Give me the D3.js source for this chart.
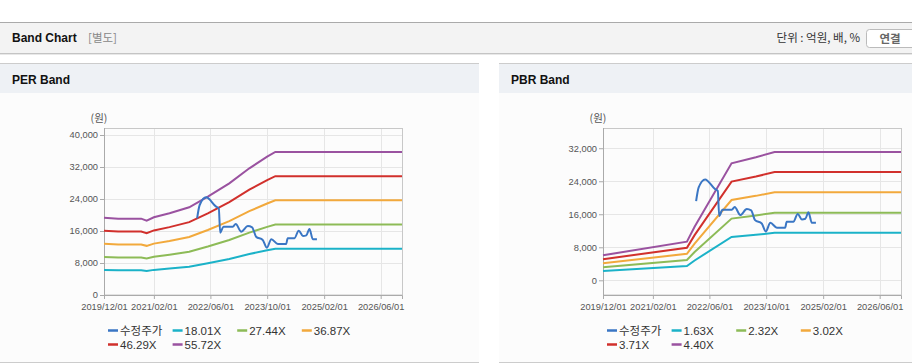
<!DOCTYPE html>
<html>
<head>
<meta charset="utf-8">
<script src="https://cdn.jsdelivr.net/npm/d3@7"></script>
<style>
  body { margin: 0; background: #fff; }
  svg { display: block; }
</style>
</head>
<body>
<svg width="912" height="364"></svg>
<script>
const parse = d3.timeParse("%Y-%m-%d");

// adjusted share price (same series on both charts)
const priceDates = ["2022-02-07", "2022-03-01", "2022-04-25", "2022-07-20", "2022-08-12", "2022-08-24",
  "2022-09-21", "2022-12-10", "2023-01-04", "2023-02-21", "2023-04-18", "2023-05-25", "2023-06-28",
  "2023-08-24", "2023-09-28", "2023-11-06", "2024-01-01", "2024-03-12", "2024-03-25", "2024-05-21",
  "2024-06-28", "2024-08-03", "2024-09-01", "2024-09-28", "2024-10-27", "2024-12-01"];
const priceValues = [19170, 22500, 24420, 22080, 21670, 15580, 17080, 17080, 17750, 15830, 17250, 16920,
  14580, 13750, 11830, 13920, 12750, 12750, 14170, 14170, 16080, 14750, 14920, 16500, 13920, 13920];

// PER band
const perDates = ["2019-12-01", "2020-04-01", "2020-10-15", "2020-12-01", "2021-02-01", "2021-06-15",
  "2021-12-01", "2022-05-10", "2022-11-10", "2023-05-01", "2023-10-01", "2023-12-10", "2026-12-01"];
const perLabels = ["18.01X", "27.44X", "36.87X", "46.29X", "55.72X"];
const per1801 = [6250, 6170, 6170, 6010, 6280, 6600, 7080, 7940, 9020, 10240, 11180, 11550, 11550];
const per2744 = [9520, 9400, 9400, 9150, 9560, 10060, 10800, 12110, 13750, 15600, 17030, 17610, 17610];
const per3687 = [12790, 12630, 12630, 12290, 12850, 13510, 14500, 16260, 18470, 20960, 22880, 23660, 23660];
const per4629 = [16060, 15860, 15860, 15440, 16140, 16970, 18220, 20430, 23200, 26320, 28740, 29710, 29710];
const per5572 = [19330, 19080, 19080, 18580, 19420, 20420, 21920, 24580, 27920, 31670, 34580, 35750, 35750];

// PBR band
const pbrDates = ["2019-12-01", "2021-11-20", "2022-01-25", "2022-12-08", "2023-07-05", "2023-12-12", "2026-12-01"];
const pbrLabels = ["1.63X", "2.32X", "3.02X", "3.71X", "4.40X"];
const pbr163 = [2240, 3460, 4810, 10490, 11030, 11510, 11510];
const pbr232 = [3190, 4930, 6850, 14950, 15720, 16390, 16390];
const pbr302 = [4160, 6420, 8910, 19460, 20460, 21340, 21340];
const pbr371 = [5110, 7890, 10950, 23910, 25140, 26220, 26220];
const pbr440 = [6060, 9360, 12990, 28360, 29820, 31100, 31100];

const xTicks = ["2019-12-01", "2021-02-01", "2022-06-01", "2023-10-01", "2025-02-01", "2026-06-01"];
const perYTicks = [0, 8000, 16000, 24000, 32000, 40000];
const pbrYTicks = [0, 8000, 16000, 24000, 32000];
const priceLabel = "수정주가";
const colors = ["#3a76c4", "#1bb2c8", "#8dbb57", "#f2a93c", "#d1302c", "#9a52a0"];

const svg = d3.select("svg");
const sans = "'Liberation Sans', Arial, sans-serif";
const kr = "'Noto Sans CJK KR', 'Noto Sans', sans-serif";

// page header
svg.append("rect").attr("x", 0).attr("y", 22).attr("width", 912).attr("height", 31).attr("fill", "#f3f3f3");
svg.append("line").attr("x1", 0).attr("x2", 912).attr("y1", 22.5).attr("y2", 22.5).attr("stroke", "#aaa");
svg.append("line").attr("x1", 0).attr("x2", 912).attr("y1", 53.5).attr("y2", 53.5).attr("stroke", "#c4c4c4");
svg.append("line").attr("x1", 0).attr("x2", 912).attr("y1", 54.5).attr("y2", 54.5).attr("stroke", "#e8e8e8");
svg.append("text").attr("x", 12).attr("y", 42).attr("font-family", sans).attr("font-weight", "bold")
  .attr("font-size", 12).attr("fill", "#111").text("Band Chart");
svg.append("text").attr("x", 88).attr("y", 42).attr("font-family", kr)
  .attr("font-size", 11.5).attr("fill", "#888").text("[별도]");
svg.append("text").attr("x", 860).attr("y", 42).attr("text-anchor", "end").attr("font-family", kr)
  .attr("font-size", 11.5).attr("fill", "#333").text("단위 : 억원, 배, %");
svg.append("rect").attr("x", 866.5).attr("y", 29.5).attr("width", 60).attr("height", 18).attr("rx", 3)
  .attr("fill", "#fff").attr("stroke", "#bbb");
svg.append("text").attr("x", 890).attr("y", 42.5).attr("text-anchor", "middle").attr("font-family", kr)
  .attr("font-weight", "bold").attr("font-size", 11.5).attr("fill", "#666").text("연결");

function drawPanel(px, pw, title) {
  svg.append("rect").attr("x", px).attr("y", 93).attr("width", pw).attr("height", 269).attr("fill", "#fcfcfc");
  svg.append("rect").attr("x", px).attr("y", 64).attr("width", pw).attr("height", 29).attr("fill", "#eef1f5");
  svg.append("line").attr("x1", px).attr("x2", px + pw).attr("y1", 63.5).attr("y2", 63.5).attr("stroke", "#ccc");
  svg.append("line").attr("x1", px).attr("x2", px + pw).attr("y1", 362.5).attr("y2", 362.5).attr("stroke", "#ccc");
  svg.append("text").attr("x", px + 12).attr("y", 84).attr("font-family", sans).attr("font-weight", "bold")
    .attr("font-size", 12).attr("fill", "#111").text(title);
}

function drawBand(cfg) {
  const g = svg.append("g");
  const x = d3.scaleTime().domain([parse("2019-12-01"), parse("2026-12-01")]).range([cfg.left, cfg.left + 298]);
  const y = d3.scaleLinear().domain(cfg.yDomain).range([295, 128]);

  // grid
  g.append("g").selectAll("line").data(cfg.yTicks).join("line")
    .attr("x1", cfg.left).attr("x2", cfg.left + 298)
    .attr("y1", d => Math.round(y(d)) + 0.5).attr("y2", d => Math.round(y(d)) + 0.5)
    .attr("stroke", "#e6e6e6");
  g.append("g").selectAll("line").data(xTicks.map(parse)).join("line")
    .attr("x1", d => Math.round(x(d)) + 0.5).attr("x2", d => Math.round(x(d)) + 0.5)
    .attr("y1", 128).attr("y2", 295)
    .attr("stroke", "#e6e6e6");
  g.append("rect").attr("x", cfg.left + 0.5).attr("y", 128.5).attr("width", 298).attr("height", 166.5)
    .attr("fill", "none").attr("stroke", "#c8c8c8");

  const xAxisG = g.append("g").attr("transform", "translate(0,295)")
    .call(d3.axisBottom(x).tickValues(xTicks.map(parse)).tickFormat(d3.timeFormat("%Y/%m/%d")).tickSize(4));
  xAxisG.select(".domain").attr("stroke", "#aaa");
  xAxisG.selectAll("line").attr("stroke", "#aaa");
  xAxisG.selectAll("text").attr("font-family", sans).attr("font-size", 9.3).attr("fill", "#555").attr("y", 8);

  const yAxisG = g.append("g").attr("transform", `translate(${cfg.left},0)`)
    .call(d3.axisLeft(y).tickValues(cfg.yTicks).tickFormat(d3.format(",")).tickSize(4));
  yAxisG.select(".domain").attr("stroke", "#aaa").attr("d", `M0.5,128V295`);
  yAxisG.selectAll("line").attr("stroke", "#aaa");
  yAxisG.selectAll("text").attr("font-family", sans).attr("font-size", 9.3).attr("fill", "#555").attr("x", -6);
  xAxisG.attr("font-family", null);
  yAxisG.attr("font-family", null);

  g.append("text").attr("x", cfg.left - 5).attr("y", 122).attr("text-anchor", "middle")
    .attr("font-family", kr).attr("font-size", 10.5).attr("fill", "#555").text("(원)");

  const bandLine = d3.line().x(d => x(d[0])).y(d => y(d[1]));
  cfg.bands.forEach((vals, i) => {
    g.append("path")
      .datum(cfg.dates.map((d, j) => [parse(d), vals[j]]))
      .attr("d", bandLine)
      .attr("fill", "none").attr("stroke", colors[i + 1]).attr("stroke-width", 2);
  });
  const priceLine = d3.line().x(d => x(d[0])).y(d => y(d[1])).curve(d3.curveMonotoneX);
  g.append("path")
    .datum(priceDates.map((d, j) => [parse(d), priceValues[j]]))
    .attr("d", priceLine)
    .attr("fill", "none").attr("stroke", colors[0]).attr("stroke-width", 2);

  // legend
  const names = [priceLabel].concat(cfg.labels);
  const leg = g.append("g").selectAll("g").data(names).join("g")
    .attr("transform", (d, i) => `translate(${cfg.legX + (i % 4) * 64.6},${i < 4 ? 330 : 344})`);
  leg.append("line").attr("x1", 0).attr("x2", 10).attr("y1", 0.5).attr("y2", 0.5)
    .attr("stroke", (d, i) => colors[i]).attr("stroke-width", 2.5);
  leg.append("text").attr("x", 12).attr("y", 4.5)
    .attr("font-family", (d, i) => i === 0 ? kr : sans)
    .attr("font-size", 11.5).attr("fill", "#333").text(d => d);
}

drawPanel(0, 479, "PER Band");
drawPanel(499, 413, "PBR Band");

drawBand({
  left: 104, yDomain: [0, 41750], yTicks: perYTicks, dates: perDates,
  bands: [per1801, per2744, per3687, per4629, per5572], labels: perLabels, legX: 108
});
drawBand({
  left: 603, yDomain: [-3560, 36900], yTicks: pbrYTicks, dates: pbrDates,
  bands: [pbr163, pbr232, pbr302, pbr371, pbr440], labels: pbrLabels, legX: 607
});
</script>
</body>
</html>
